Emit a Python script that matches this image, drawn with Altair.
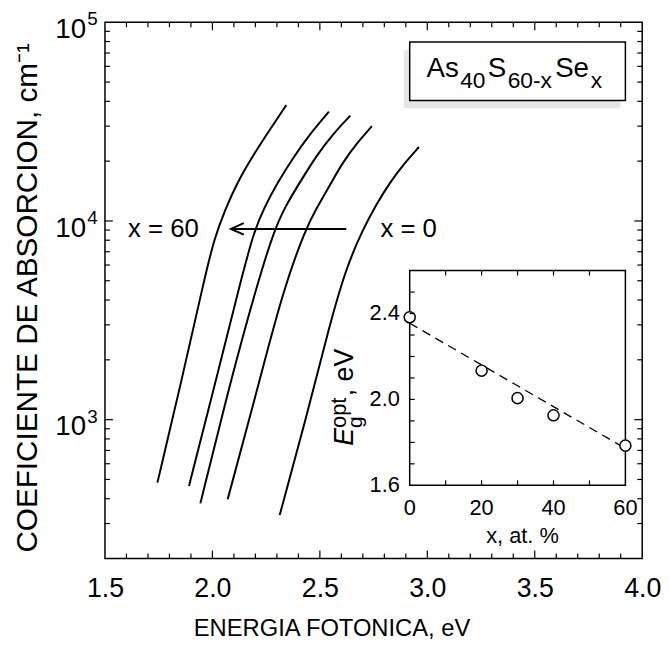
import altair as alt
import pandas as pd

FONT = "Liberation Sans"

# ---------------- data ----------------
curve_names = ["x = 60", "x = 40", "x = 30", "x = 20", "x = 0"]
E_x60 = [1.744, 1.856, 1.964, 2.010, 2.056, 2.117, 2.194, 2.270, 2.344]
A_x60 = [482, 1560, 5200, 8230, 11170, 15770, 21800, 29100, 38300]
E_x40 = [1.891, 2.025, 2.132, 2.194, 2.240, 2.301, 2.378, 2.455, 2.542]
A_x40 = [464, 1717, 5010, 8890, 11600, 15470, 21000, 27470, 35480]
E_x30 = [1.944, 2.086, 2.209, 2.286, 2.339, 2.409, 2.485, 2.562, 2.642]
A_x30 = [379, 1590, 4820, 8890, 11840, 15770, 21400, 27470, 33900]
E_x20 = [2.071, 2.209, 2.324, 2.432, 2.485, 2.547, 2.608, 2.677, 2.742]
A_x20 = [398, 1418, 4300, 9060, 11600, 15170, 19840, 24950, 29980]
E_x0 = [2.313, 2.439, 2.547, 2.623, 2.700, 2.762, 2.823, 2.892, 2.961]
A_x0 = [331, 1044, 3048, 5830, 9060, 12070, 15470, 19450, 23560]

arrow_E = [2.623, 2.086]
arrow_a = [9120, 9120]
label_text = ["x = 60", "x = 0"]
label_E = [1.772, 2.913]
label_a = [9120, 9120]

x_major = [1.5, 2.0, 2.5, 3.0, 3.5, 4.0]
x_minor = [1.6, 1.7, 1.8, 1.9, 2.1, 2.2, 2.3, 2.4, 2.6, 2.7, 2.8, 2.9,
           3.1, 3.2, 3.3, 3.4, 3.6, 3.7, 3.8, 3.9]
y_major = [1000, 10000, 100000]
y_exp = ["3", "4", "5"]
y_minor = [300, 400, 500, 600, 700, 800, 900,
           2000, 3000, 4000, 5000, 6000, 7000, 8000, 9000,
           20000, 30000, 40000, 50000, 60000, 70000, 80000, 90000]

inset_x = [0, 20, 30, 40, 60]
inset_Eg = [2.383, 2.134, 2.006, 1.926, 1.785]
fit_x = [0, 60]
fit_Eg = [2.355, 1.772]
inset_x_ticks = [10, 20, 30, 40, 50]
inset_x_labels = [0, 20, 40, 60]
inset_y_ticks = [1.7, 1.8, 1.9, 2.0, 2.1, 2.2, 2.3, 2.4, 2.5]
inset_y_labels = [1.6, 2.0, 2.4]

# ---------------- tables ----------------
curve_E = [E_x60, E_x40, E_x30, E_x20, E_x0]
curve_A = [A_x60, A_x40, A_x30, A_x20, A_x0]
rows = []
for name, es, as_ in zip(curve_names, curve_E, curve_A):
    for i, (e, a) in enumerate(zip(es, as_)):
        rows.append({"c": name, "i": i, "E": e, "a": a})
df_curves = pd.DataFrame(rows)
df_arrow = pd.DataFrame({"E": arrow_E, "a": arrow_a, "i": [0, 1]})
df_head = pd.DataFrame({"E": arrow_E[1:], "a": arrow_a[1:]})
df_lbl = pd.DataFrame({"E": label_E, "a": label_a, "t": label_text})
df_xmaj = pd.DataFrame({"E": x_major[1:-1]})
df_xmin = pd.DataFrame({"E": x_minor})
df_ymaj = pd.DataFrame({"a": y_major, "s": y_exp, "t": ["10"] * 3})
df_ymaj_in = pd.DataFrame({"a": y_major[:-1]})
df_ymin = pd.DataFrame({"a": y_minor})
one = alt.Data(values=[{"k": 0}])

df_pts = pd.DataFrame({"xi": inset_x, "Eg": inset_Eg})
df_fit = pd.DataFrame({"xi": fit_x, "Eg": fit_Eg})
df_frame = pd.DataFrame({"xi": [0], "xi2": [60], "Eg": [1.6], "Eg2": [2.6]})
df_ixt = pd.DataFrame({"xi": inset_x_ticks})
df_ixl = pd.DataFrame({"xi": inset_x_labels})
df_iyt = pd.DataFrame({"Eg": inset_y_ticks})
df_iyl = pd.DataFrame({"Eg": inset_y_labels})

W, H = 543, 542

# ---------------- main scales / axes ----------------
xs = alt.Scale(domain=[1.5, 4.0], nice=False, zero=False)
ys = alt.Scale(type="log", domain=[200, 100000], nice=False)
X = alt.X("E:Q", scale=xs, axis=alt.Axis(
    values=x_major, format=".1f", labelFont=FONT, labelFontSize=27, labelColor="black",
    labelPadding=30, labelBaseline="middle", labelFlush=False, labelOverlap=False,
    ticks=False, tickSize=0, domain=False, grid=False,
    title="ENERGIA FOTONICA, eV", titleFont=FONT, titleFontSize=24, titleFontWeight="normal",
    titleColor="black", titleX=229, titleY=71, titleBaseline="middle", titleAlign="center"))
Y = alt.Y("a:Q", scale=ys, axis=alt.Axis(
    labels=False, ticks=False, tickSize=0, domain=False, grid=False,
    title="COEFICIENTE DE ABSORCION, cm⁻¹", titleFont=FONT, titleFontSize=30,
    titleFontWeight="normal", titleColor="black", titleX=-78, titleY=278,
    titleAngle=270, titleBaseline="middle", titleAlign="center"))

curves = alt.Chart(df_curves).mark_line(color="black", strokeWidth=2, interpolate="basis").encode(
    x=X, y=Y, detail="c:N", order="i:Q")
arrow = alt.Chart(df_arrow).mark_line(color="black", strokeWidth=2).encode(x=X, y=Y, order="i:Q")
head = alt.Chart(df_head).mark_point(shape="M2,-0.9L0,0L2,0.9", size=169, filled=False,
                                     color="black", strokeWidth=2, opacity=1).encode(x=X, y=Y)
labels = alt.Chart(df_lbl).mark_text(font=FONT, fontSize=26, color="black", align="center",
                                     baseline="middle").encode(x=X, y=Y, text="t:N")

tick_style = dict(color="black", strokeWidth=1.2)
bt_maj = alt.Chart(df_xmaj).mark_rule(**tick_style).encode(x=X, y=alt.value(H), y2=alt.value(H - 8))
bt_min = alt.Chart(df_xmin).mark_rule(**tick_style).encode(x=X, y=alt.value(H), y2=alt.value(H - 5))
tt_maj = alt.Chart(df_xmaj).mark_rule(**tick_style).encode(x=X, y=alt.value(0), y2=alt.value(8))
tt_min = alt.Chart(df_xmin).mark_rule(**tick_style).encode(x=X, y=alt.value(0), y2=alt.value(5))
lt_maj = alt.Chart(df_ymaj_in).mark_rule(**tick_style).encode(y=Y, x=alt.value(0), x2=alt.value(8))
lt_min = alt.Chart(df_ymin).mark_rule(**tick_style).encode(y=Y, x=alt.value(0), x2=alt.value(5))
rt_maj = alt.Chart(df_ymaj_in).mark_rule(**tick_style).encode(y=Y, x=alt.value(W), x2=alt.value(W - 8))
rt_min = alt.Chart(df_ymin).mark_rule(**tick_style).encode(y=Y, x=alt.value(W), x2=alt.value(W - 5))

ylab = alt.Chart(df_ymaj).mark_text(font=FONT, fontSize=28, color="black", align="right",
                                    baseline="middle", dy=8).encode(y=Y, x=alt.value(-19), text="t:N")
ysup = alt.Chart(df_ymaj).mark_text(font=FONT, fontSize=19, color="black", align="left",
                                    baseline="middle", dy=-3).encode(y=Y, x=alt.value(-18), text="s:N")

# legend box
shadow = alt.Chart(one).mark_rect(color="#e6e6e6").encode(
    x=alt.value(302), x2=alt.value(521), y=alt.value(28), y2=alt.value(87))
box = alt.Chart(one).mark_rect(fill="white", stroke="black", strokeWidth=1.5).encode(
    x=alt.value(308), x2=alt.value(526), y=alt.value(20), y2=alt.value(79))


def piece(txt, px, py, fs):
    return alt.Chart(one).mark_text(font=FONT, fontSize=fs, color="black", align="left",
                                    baseline="alphabetic").encode(
        x=alt.value(px), y=alt.value(py), text=alt.value(txt))


leg = [piece("As", 325, 55, 28), piece("40", 359, 66, 23), piece("S", 387, 55, 28),
       piece("60-x", 407, 66, 23), piece("Se", 455, 55, 28), piece("x", 491, 66, 23)]

main = alt.layer(bt_maj, bt_min, tt_maj, tt_min, lt_maj, lt_min, rt_maj, rt_min,
                 curves, arrow, head, labels, ylab, ysup, shadow, box, *leg)

# ---------------- inset ----------------
XI = alt.X("xi:Q", scale=alt.Scale(domain=[0, 60], range=[308, 526], nice=False, zero=False), axis=None)
YI = alt.Y("Eg:Q", scale=alt.Scale(domain=[1.6, 2.6], range=[468, 251], nice=False, zero=False), axis=None)

frame = alt.Chart(df_frame).mark_rect(fill="white", stroke="black", strokeWidth=1.5).encode(
    x=XI, x2="xi2:Q", y=YI, y2="Eg2:Q")
fit = alt.Chart(df_fit).mark_line(color="black", strokeWidth=1.3, strokeDash=[9, 6]).encode(x=XI, y=YI)
pts = alt.Chart(df_pts).mark_point(shape="circle", size=125, filled=True, fill="white",
                                   stroke="black", strokeWidth=1.5, opacity=1).encode(x=XI, y=YI)
ibt = alt.Chart(df_ixt).mark_rule(**tick_style).encode(x=XI, y=alt.value(468), y2=alt.value(463))
itt = alt.Chart(df_ixt).mark_rule(**tick_style).encode(x=XI, y=alt.value(251), y2=alt.value(256))
ilt = alt.Chart(df_iyt).mark_rule(**tick_style).encode(y=YI, x=alt.value(308), x2=alt.value(313))
ixl = alt.Chart(df_ixl).mark_text(font=FONT, fontSize=22, color="black", align="center",
                                  baseline="middle").encode(x=XI, y=alt.value(491), text="xi:Q")
iyl = alt.Chart(df_iyl).mark_text(font=FONT, fontSize=22, color="black", align="right",
                                  baseline="middle").encode(y=YI, x=alt.value(298),
                                                            text=alt.Text("Eg:Q", format=".1f"))
ixtitle = alt.Chart(one).mark_text(font=FONT, fontSize=22, color="black", align="center",
                                   baseline="middle").encode(
    x=alt.value(422), y=alt.value(519), text=alt.value("x, at. %"))


def rpiece(txt, px, py, fs, italic=False):
    kw = dict(font=FONT, fontSize=fs, color="black", align="left", baseline="alphabetic", angle=270)
    if italic:
        kw["fontStyle"] = "italic"
    return alt.Chart(one).mark_text(**kw).encode(x=alt.value(px), y=alt.value(py), text=alt.value(txt))


iytitle = [rpiece("E", 251, 428, 27, True), rpiece("g", 260, 410, 21),
           rpiece("opt", 244, 410, 22), rpiece(", eV", 251, 378, 27)]

inset = alt.layer(frame, fit, pts, ibt, itt, ilt, ixl, iyl, ixtitle, *iytitle)

chart = alt.layer(main, inset).resolve_scale(x="independent", y="independent").properties(
    width=W, height=H,
    padding={"left": 98, "top": 11, "right": 20, "bottom": 86},
    autosize=alt.AutoSizeParams(type="none"),
).configure_view(stroke="black", strokeWidth=1.5)

chart.save("out.html", embed_options={"renderer": "svg", "actions": False})
